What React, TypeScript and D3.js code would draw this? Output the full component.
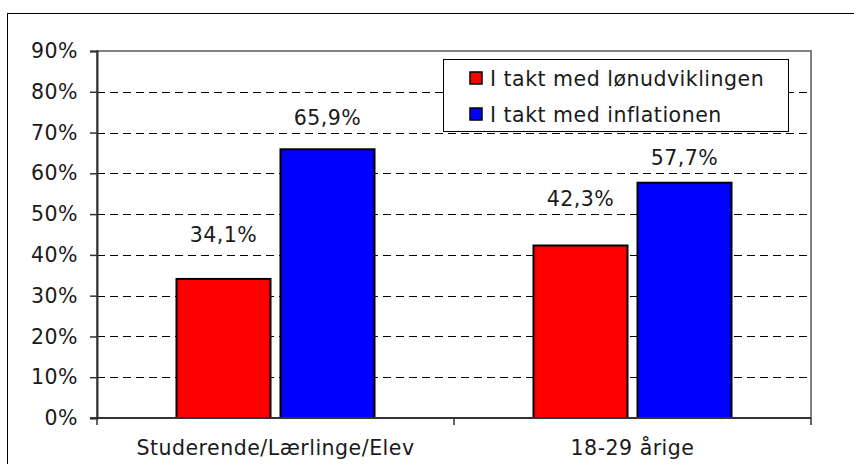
import React, { useEffect, useRef } from "react";
import * as d3 from "d3";

const categories = ["Studerende/Lærlinge/Elev", "18-29 årige"];
const seriesNames = ["I takt med lønudviklingen", "I takt med inflationen"];
const seriesColors = ["#ff0000", "#0000ff"];
const lonValues = [34.1, 42.3];
const inflValues = [65.9, 57.7];
const yTicks = [0, 10, 20, 30, 40, 50, 60, 70, 80, 90];

const fmt = (v: number) => v.toFixed(1).replace(".", ",") + "%";

const App: React.FC = () => {
  const svgRef = useRef<SVGSVGElement>(null);

  useEffect(() => {
    if (!svgRef.current) return;
    const svg = d3.select(svgRef.current);
    svg.selectAll("*").remove();

    const width = 854;
    const height = 464;
    const font = "'DejaVu Sans', Verdana, sans-serif";
    const fontSize = 20.5;
    const spacing = "0.5px";
    const textColor = "#1a1a1a";

    const left = 97;
    const right = 811;
    const top = 51;
    const bottom = 418;

    // how far each value label sits above its bar (series x category), as in the original
    const labelLift = [
      [37, 40],
      [24, 18],
    ];

    svg.attr("width", width).attr("height", height);

    // outer chart frame (runs off right and bottom)
    svg
      .append("rect")
      .attr("x", 7.5)
      .attr("y", 13.5)
      .attr("width", width)
      .attr("height", height)
      .attr("fill", "#fff")
      .attr("stroke", "#000")
      .attr("stroke-width", 1);

    const y = d3.scaleLinear().domain([0, 90]).range([bottom, top]);
    const x0 = d3.scaleBand().domain(categories).range([left, right]);

    // plot area border (gray top/right)
    svg
      .append("rect")
      .attr("x", left)
      .attr("y", top)
      .attr("width", right - left)
      .attr("height", bottom - top)
      .attr("fill", "none")
      .attr("stroke", "#808080")
      .attr("stroke-width", 2);

    // gridlines
    svg
      .append("g")
      .selectAll("line")
      .data(yTicks.filter((t) => t > 0 && t < 90))
      .join("line")
      .attr("x1", left)
      .attr("x2", right)
      .attr("y1", (d) => Math.round(y(d)) + 0.5)
      .attr("y2", (d) => Math.round(y(d)) + 0.5)
      .attr("stroke", "#000")
      .attr("stroke-width", 1)
      .attr("stroke-dasharray", "8,5");

    // bars
    const series = [lonValues, inflValues];
    const barW = 94;
    const gap = 10;
    categories.forEach((cat, ci) => {
      const cx = (x0(cat) as number) + x0.bandwidth() / 2;
      series.forEach((vals, si) => {
        const v = vals[ci];
        const bx = si === 0 ? cx - gap / 2 - barW : cx + gap / 2;
        svg
          .append("rect")
          .attr("x", bx)
          .attr("y", y(v))
          .attr("width", barW)
          .attr("height", bottom - y(v))
          .attr("fill", seriesColors[si])
          .attr("stroke", "#000")
          .attr("stroke-width", 2);
        svg
          .append("text")
          .attr("x", bx + barW / 2)
          .attr("y", y(v) - labelLift[si][ci])
          .attr("text-anchor", "middle")
          .style("font-family", font)
          .style("font-size", fontSize + "px")
          .style("letter-spacing", spacing)
          .style("fill", textColor)
          .text(fmt(v));
      });
    });

    // y axis
    const yAxis = d3
      .axisLeft(y)
      .tickValues(yTicks)
      .tickSize(7)
      .tickPadding(12)
      .tickFormat((d) => d + "%");
    const gy = svg.append("g").attr("transform", `translate(${left},0)`).call(yAxis);
    gy.select(".domain").attr("stroke", "#333").attr("stroke-width", 2);
    gy.selectAll(".tick line").attr("stroke", "#333").attr("stroke-width", 1.5);
    gy.selectAll(".tick text")
      .style("font-family", font)
      .style("font-size", fontSize + "px")
      .style("letter-spacing", spacing)
      .style("fill", textColor);

    // x axis
    const gx = svg.append("g");
    gx.append("line")
      .attr("x1", left - 7)
      .attr("x2", right)
      .attr("y1", bottom)
      .attr("y2", bottom)
      .attr("stroke", "#333")
      .attr("stroke-width", 2);
    [left, x0(categories[1]) as number, right].forEach((tx) => {
      gx.append("line")
        .attr("x1", tx)
        .attr("x2", tx)
        .attr("y1", bottom)
        .attr("y2", bottom + 7)
        .attr("stroke", "#333")
        .attr("stroke-width", 1.5);
    });
    categories.forEach((cat) => {
      gx.append("text")
        .attr("x", (x0(cat) as number) + x0.bandwidth() / 2)
        .attr("y", 455)
        .attr("text-anchor", "middle")
        .style("font-family", font)
        .style("font-size", fontSize + "px")
        .style("letter-spacing", spacing)
        .style("fill", textColor)
        .text(cat);
    });

    // legend
    const legend = svg.append("g");
    legend
      .append("rect")
      .attr("x", 443.5)
      .attr("y", 59.5)
      .attr("width", 345)
      .attr("height", 72)
      .attr("fill", "#fff")
      .attr("stroke", "#000")
      .attr("stroke-width", 1);
    seriesNames.forEach((name, i) => {
      const ly = 86 + i * 36;
      legend
        .append("rect")
        .attr("x", 470)
        .attr("y", ly - 14)
        .attr("width", 12)
        .attr("height", 12)
        .attr("fill", seriesColors[i])
        .attr("stroke", "#000")
        .attr("stroke-width", 1.5);
      legend
        .append("text")
        .attr("x", 490)
        .attr("y", ly)
        .style("font-family", font)
        .style("font-size", fontSize + "px")
        .style("letter-spacing", spacing)
        .style("fill", textColor)
        .text(name);
    });
  }, []);

  return (
    <svg
      ref={svgRef}
      style={{ position: "absolute", left: 0, top: 0, display: "block" }}
    ></svg>
  );
};

export default App;
